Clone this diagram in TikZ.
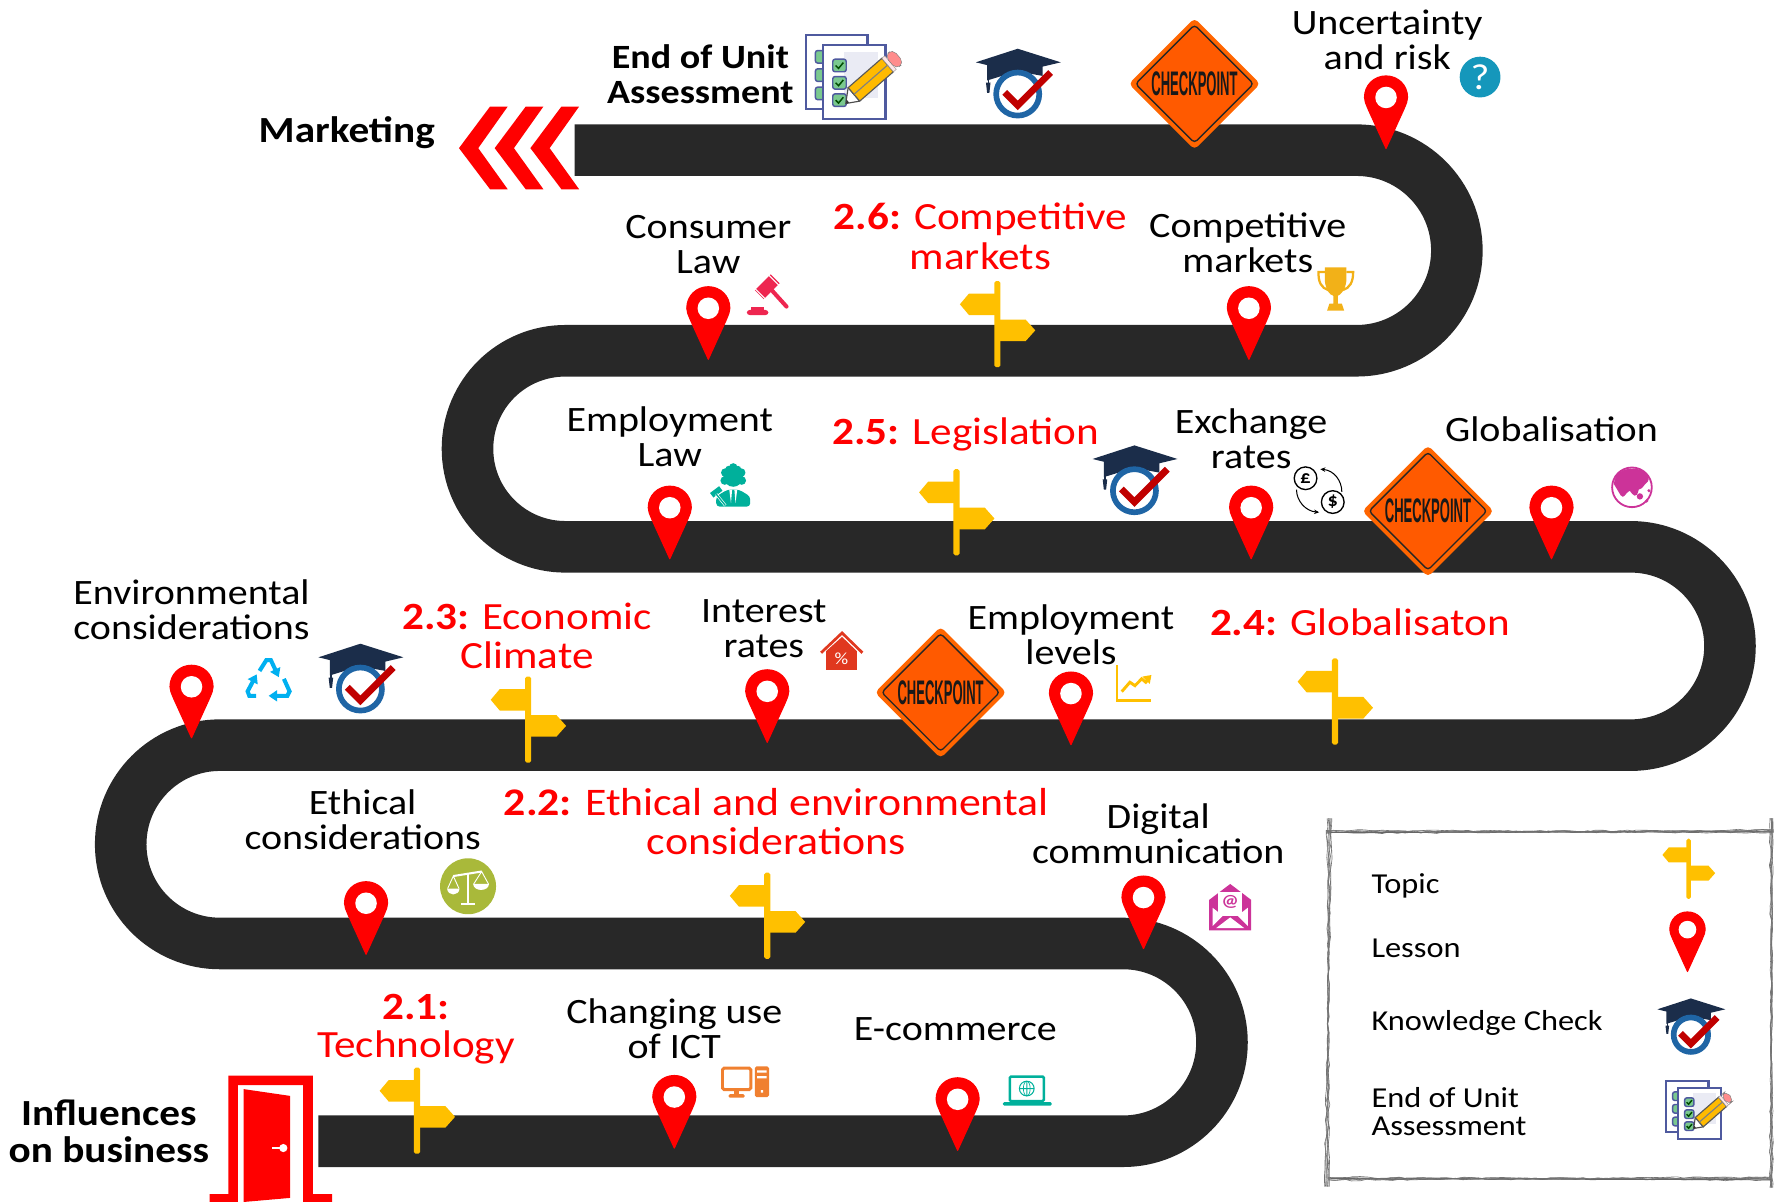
\documentclass[tikz,border=0pt]{standalone}
\usepackage{fontspec}
\usepackage{graphicx}
\setmainfont[FakeStretch=1.12]{Carlito}
\newfontfamily\signfont{Liberation Sans}
\usetikzlibrary{arrows.meta,decorations.pathmorphing}
\definecolor{road}{HTML}{282828}
\definecolor{signy}{HTML}{FFC000}
\definecolor{ckorange}{HTML}{FF5A00}
\definecolor{capnavy}{HTML}{1B2D4A}
\definecolor{capblue}{HTML}{1F65A5}
\definecolor{chkred}{HTML}{C00000}
\definecolor{penline}{HTML}{4F5A9F}
\definecolor{tabgreen}{HTML}{7AC98F}
\definecolor{magent}{HTML}{CC3399}
\definecolor{teal}{HTML}{00B09B}
\definecolor{quest}{HTML}{1597BB}
\tikzset{
  lbl/.style={inner sep=0pt,align=center,text=black,font=\fontsize{31.5}{31}\selectfont},
  redlbl/.style={inner sep=0pt,align=center,text=red,font=\fontsize{34}{35}\selectfont},
  boldlbl/.style={inner sep=0pt,align=center,text=black,font=\fontsize{30}{31}\selectfont\bfseries},
  boldbig/.style={inner sep=0pt,align=center,text=black,font=\fontsize{32.5}{32.5}\selectfont\bfseries},
  leglbl/.style={inner sep=0pt,anchor=west,align=left,text=black,font=\fontsize{25.5}{25}\selectfont},
  sketch/.style={draw=black!55,line width=.55pt,decorate,decoration={random steps,segment length=7pt,amplitude=.9pt}},
  pinp/.pic={
    \fill[red,draw=red,line width=1pt,line join=round] (0,-1) -- (-15.5,-35) .. controls (-18,-41) and (-19,-43) .. (-19,-46)
      .. controls (-19,-57) and (-10.5,-65) .. (0,-65) .. controls (10.5,-65) and (19,-57) .. (19,-46)
      .. controls (19,-43) and (18,-41) .. (15.5,-35) -- cycle;
    \fill[white] (0,-46) circle[radius=9.5];
  },
  signp/.pic={
    \fill[signy] (0,11) -- (-25,11) -- (-33,20.5) -- (-25,30) -- (0,30) -- cycle;
    \fill[signy] (0,34) -- (25,34) -- (33.5,43.5) -- (25,53) -- (0,53) -- cycle;
    \fill[signy,rounded corners=1.5pt] (-2.7,76) -- (-2.7,0) -- (2.7,0) -- (2.7,76) -- cycle;
  },
  ckpt/.pic={
    \fill[ckorange!70!orange,rounded corners=4pt] (0,-58) -- (58,0) -- (0,58) -- (-58,0) -- cycle;
    \fill[ckorange,draw=black!85,line width=1.2pt,rounded corners=3pt] (0,-52) -- (52,0) -- (0,52) -- (-52,0) -- cycle;
    \node[inner sep=0pt,text=black!90] (-txt) at (0,0) {\resizebox{76pt}{21pt}{\signfont\bfseries CHECKPOINT}};
  },
  capchk/.pic={
    \fill[white] (-3,19) rectangle (33,62);
    \fill[capnavy] (-27,14) -- (-27,28) -- (-14,24) -- (0,20) -- (22,24) -- (22,14) -- cycle;
    \fill[capnavy] (0,0) -- (38,12) -- (0,21) -- (-37,12) -- cycle;
    \draw[capnavy,line width=1.2pt] (-26,14) -- (-26,33);
    \fill[capnavy] (-28,30) -- (-24,30) -- (-25,39) -- (-27,39) -- cycle;
    \draw[capblue,fill=white,line width=5pt] (0,40) circle[radius=19];
    \draw[chkred,line width=6pt] (-11.5,38.5) -- (0,50) -- (29,21);
  },
  assessp/.pic={
    \draw[penline,fill=white,line width=2.2pt] (0,0) rectangle (128,153);
    \foreach \yy in {32,70,108}{\draw[penline,fill=tabgreen,line width=1.3pt,rounded corners=2pt] (20,\yy) rectangle (44,\yy+26);}
    \draw[penline,fill=white,line width=2.2pt] (36,21) rectangle (165,174);
    \fill[penline!12] (80,35) rectangle (150,130);
    \foreach \yy in {50,86,122}{
      \draw[penline,fill=tabgreen,line width=1.3pt,rounded corners=2pt] (56,\yy) rectangle (84,\yy+26);
      \draw[black!70!green,line width=1.3pt] (62,\yy+13) -- (68,\yy+19) -- (78,\yy+7);}
    \fill[white,draw=black!70,line width=1pt,line join=round] (83,142) -- (112,137) -- (88,109) -- cycle;
    \fill[black!80] (83,142) -- (90,140) -- (85,134) -- cycle;
    \fill[signy!90!orange,draw=black!65,line width=1pt] (112,137) -- (182,76) -- (158,48) -- (88,109) -- cycle;
    \draw[black!50,line width=1pt] (100,123) -- (170,62);
    \fill[white!60!pink,draw=black!40] (182,76) -- (188,71) -- (164,43) -- (158,48) -- cycle;
    \fill[red!45!white,draw=black!50,rounded corners=5pt] (188,71) -- (204,57) -- (180,29) -- (164,43) -- cycle;
  },
}
\begin{document}
\begin{tikzpicture}[x=1pt,y=-1pt]
\useasboundingbox (0,0) rectangle (1568,1060.6);
% road
\draw[road,line width=45.5pt] (507,132.5) -- (1197,132.5)
  .. controls (1245.9,132.5) and (1285.5,172.1) .. (1285.5,221)
  .. controls (1285.5,269.9) and (1245.9,309.5) .. (1197,309.5)
  -- (499,309.5)
  .. controls (451.2,309.5) and (412.5,347.8) .. (412.5,396)
  .. controls (412.5,443.8) and (451.2,482.5) .. (499,482.5)
  -- (1439,482.5)
  .. controls (1487.3,482.5) and (1526.5,521.7) .. (1526.5,570)
  .. controls (1526.5,618.3) and (1487.3,657.5) .. (1439,657.5)
  -- (194,657.5)
  .. controls (145.7,657.5) and (106.5,696.7) .. (106.5,745)
  .. controls (106.5,793.3) and (145.7,832.5) .. (194,832.5)
  -- (991,832.5)
  .. controls (1039.2,832.5) and (1078.25,871.6) .. (1078.25,919.75)
  .. controls (1078.25,967.9) and (1039.2,1007) .. (991,1007)
  -- (281,1007);
% chevrons
\foreach \t in {405,436.5,468}{
  \fill[red] (\t,130.7) -- (\t+27.4,94) -- (\t+43,94) -- (\t+17,130.7) -- (\t+43,167) -- (\t+27.4,167) -- cycle;}
% door
\fill[red] (185,1060.6) -- (185,1053.6) -- (201.5,1053.6) -- (201.5,949) -- (276,949) -- (276,1053.6) -- (293,1053.6) -- (293,1060.6)
  -- (267.5,1060.6) -- (267.5,957.5) -- (210,957.5) -- (210,1060.6) -- cycle;
\fill[red] (215,961) -- (256,967) -- (256,1057) -- (215,1060.6) -- cycle;
\fill[white] (250,1013) circle[radius=3.6];
\fill[white] (240,1011.8) rectangle (250,1014.2);
% checkpoints
\pic (ckA) at (1054,74) {ckpt};
\pic (ckB) at (1260,451) {ckpt};
\pic (ckC) at (830,611) {ckpt};
% signposts
\foreach \px/\py in {880/248,844/414,466/597,1178/581,677/770,368/942}{\pic at (\px,\py) {signp};}
\pic[scale=.7] at (1490,740) {signp};
% knowledge checks
\pic at (898,43) {capchk};
\pic at (1001,393) {capchk};
\pic at (318,568) {capchk};
\pic[scale=.8] at (1492,881) {capchk};
% assessment
\pic[scale=.425] at (711,31) {assessp};
\pic[scale=.294] at (1470,954) {assessp};
% pins
\foreach \px/\py in {1223/132,625/318,1102/318,591/494,1104/494,1369/494,169/652,677/656,945/658,323/843,1009/838,595/1014,845/1016}{\pic at (\px,\py) {pinp};}
\pic[scale=.82] at (1489,858) {pinp};
% gavel
\definecolor{gav}{HTML}{EE2650}
\draw[gav,line width=11pt] (670,260) -- (684,246);
\draw[white,line width=1pt] (665.5,254) -- (676.5,265);
\draw[white,line width=1pt] (677.5,242) -- (688.5,253);
\draw[gav,line width=3.6pt,line cap=round] (680,255) -- (694,270.5);
\fill[gav,rounded corners=2.5pt] (659,273.5) rectangle (678,278);
\fill[gav] (663,271) rectangle (674,274);
% trophy
\definecolor{troph}{HTML}{F2B118}
\fill[troph] (1169,236) -- (1188,236) -- (1188,248) .. controls (1187,256) and (1183,260) .. (1180.5,261) -- (1180.5,268) -- (1184,268) -- (1186,274) -- (1171,274) -- (1173,268) -- (1176.5,268) -- (1176.5,261) .. controls (1173,260) and (1170,256) .. (1169,248) -- cycle;
\draw[troph,line width=2pt] (1169,240) -- (1163.5,240) .. controls (1163,249) and (1166,254) .. (1172,256);
\draw[troph,line width=2pt] (1188,240) -- (1194,240) .. controls (1194,249) and (1191,254) .. (1185,256);
% question
\fill[quest] (1306,68) circle[radius=18];
\node[inner sep=0pt,text=white,font=\fontsize{32}{32}\selectfont] (qmark) at (1306,68) {?};
% coins
\draw[black,line width=1.2pt] (1152,422) circle[radius=10];
\node[inner sep=0pt,font=\fontsize{16}{16}\selectfont\bfseries] (pound) at (1152,422) {£};
\draw[black,line width=1.2pt] (1176,443) circle[radius=10];
\node[inner sep=0pt,font=\fontsize{16}{16}\selectfont\bfseries] (dollar) at (1176,443) {\$};
\draw[black,line width=.9pt,-{Stealth[length=4.5pt,width=4pt]}] (1184,434) .. controls (1184,424) and (1177,415) .. (1165,414);
\draw[black,line width=.9pt,-{Stealth[length=4.5pt,width=4pt]}] (1144,432) .. controls (1144,442) and (1152,451) .. (1164,452);
% globe
\draw[magent,fill=white,line width=1.6pt] (1440,430) circle[radius=17.5];
\fill[magent] (1424,427) .. controls (1425,416) and (1434,413) .. (1442,413.5) .. controls (1450,414) and (1457,420) .. (1454,425) .. controls (1450,428) and (1450,431) .. (1446,432) .. controls (1444,441) and (1441,437) .. (1438,433) .. controls (1434,435) and (1433,441) .. (1430,437) -- cycle;
\fill[magent] (1447,438) circle[radius=2.8] (1453,442) circle[radius=1.6] (1455,433) circle[radius=1.5];
% teacher
\fill[teal] (647,421) circle[radius=8.5] (640,417) circle[radius=3.8] (647,412.5) circle[radius=3.8] (654,417) circle[radius=3.8] (639.5,424) circle[radius=3.8] (654.5,424) circle[radius=3.8] (643,414) circle[radius=3] (651,414) circle[radius=3];
\fill[teal,rounded corners=3pt] (632,447) -- (632,438) -- (642,432) -- (652,432) -- (662,438) -- (662,447) -- cycle;
\fill[white] (643.5,432) -- (645,444) -- (646,432) -- cycle (648,432) -- (649,444) -- (650.5,432) -- cycle;
\draw[teal,line width=5pt] (628,437) -- (636,431);
\draw[white,line width=2.4pt] (632,436) -- (640,446);
\draw[teal,line width=1.2pt] (632,436) -- (640,446);
% house
\definecolor{hous}{HTML}{E0381F}
\draw[hous,line width=2.4pt] (724.5,576) -- (743,558.5) -- (761,576);
\fill[hous] (729,591) -- (729,574.5) -- (743,562) -- (756,574.5) -- (756,591) -- cycle;
\node[inner sep=0pt,text=white,font=\fontsize{15}{15}\selectfont] (pct) at (742.5,581) {\%};
% chart
\draw[signy,line width=2.4pt] (985.5,587) -- (985.5,618) -- (1016,618);
\draw[signy,line width=2.6pt] (989.8,610.3) -- (997,602) -- (1001.5,605) -- (1007.4,599) -- (1011,602) -- (1014,598.5);
\fill[signy] (1016,595.6) -- (1008,597) -- (1014.5,603.5) -- cycle;
% recycle
\definecolor{recy}{HTML}{00B0F0}
\begin{scope}[recy,line width=3.6pt,-{Triangle[length=7.5pt,width=9.5pt]}]
\draw (229,592) -- (235,582.5) -- (239,582.5) -- (246,597.5);
\draw (250.5,599) -- (255.5,610) -- (253.5,614) -- (237,614);
\draw (226,614) -- (220,614) -- (218.5,610) -- (226.5,595);
\end{scope}
% scales
\definecolor{scal}{HTML}{A9B93A}
\fill[scal] (413,782) circle[radius=24.7];
\draw[white,line width=2pt] (413,771) -- (413,797);
\draw[white,line width=2pt] (407,797.5) -- (419,797.5);
\draw[white,line width=1.8pt] (400,773) -- (425,769);
\draw[white,line width=.8pt] (395,784) -- (400,773) -- (405,784);
\draw[white,line width=.8pt] (418,780) -- (425,769) -- (431,780);
\fill[white] (394.5,784) .. controls (395,791) and (405,791) .. (405.5,784) -- cycle;
\fill[white] (417.5,780) .. controls (418,787) and (431,787) .. (431.5,780) -- cycle;
% mail
\fill[magent] (1067,794) -- (1085.5,780) -- (1104,794) -- (1104,821) -- (1067,821) -- cycle;
\fill[white] (1075,787) rectangle (1096,808);
\node[inner sep=0pt,text=magent,font=\fontsize{15}{15}\selectfont\bfseries] (atsign) at (1085.5,796) {@};
\fill[white] (1070,801) -- (1079,808) -- (1070,817) -- cycle;
\fill[white] (1101,801) -- (1092,808) -- (1101,817) -- cycle;
\fill[white] (1073,819) -- (1085.5,809.5) -- (1098,819) -- cycle;
% computer
\definecolor{comp}{HTML}{F08030}
\draw[comp,line width=2.6pt,rounded corners=1.5pt] (637.5,942.5) rectangle (662.5,961.5);
\fill[comp] (648,962) rectangle (652,966);
\fill[comp,rounded corners=1pt] (643,965.5) rectangle (657,968.5);
\fill[comp,rounded corners=1.5pt] (666,941) rectangle (678.6,968);
\fill[white] (668,944.5) rectangle (676.5,946.5) (668,949.5) rectangle (676.5,951.5) (671.3,962) rectangle (673.3,964);
% laptop
\draw[teal,line width=2.2pt,rounded corners=1pt] (891,950) rectangle (921,971.5);
\fill[teal,rounded corners=1pt] (885,972.5) rectangle (928,975.5);
\draw[teal,line width=.9pt] (906,960.5) circle[radius=6.5] (899.5,960.5) -- (912.5,960.5) (906,954) -- (906,967);
\draw[teal,line width=.6pt] (906,960.5) ellipse[x radius=3,y radius=6.5];
% legend box
\pgfmathsetseed{7}
\foreach \d in {-2,-1,-.3,.6,1.5,2.2}{
  \draw[sketch] (1170,734+.6*\d) -- (1565,733.5-.6*\d);
  \draw[sketch] (1172,1040+.6*\d) -- (1563,1040-.6*\d);
  \draw[sketch] (1173+\d,722) -- (1171-\d,1047);
  \draw[sketch] (1563+.6*\d,722) -- (1563-.6*\d,1048);
}
\draw[black!60,line width=.8pt] (1174,734.5) -- (1563,734);
\draw[black!60,line width=.8pt] (1174,1040) -- (1563,1041);
% labels
\node[boldlbl] (tEnd) at (618,65.5) {End of Unit\\Assessment};
\node[boldbig] (tMkt) at (306,117) {Marketing};
\node[lbl] (tUnc) at (1224,35) {Uncertainty\\and risk};
\node[lbl] (tCon) at (625,215.5) {Consumer\\Law};
\node[redlbl] (t26) at (865,208.5) {{\bfseries 2.6:} Competitive\\markets};
\node[lbl] (tCom) at (1101,214) {Competitive\\markets};
\node[lbl] (tEmpL) at (591,385.5) {Employment\\Law};
\node[redlbl] (t25) at (852,383) {{\bfseries 2.5:} Legislation};
\node[lbl] (tExc) at (1104,387.5) {Exchange\\rates};
\node[lbl] (tGlo) at (1369,379) {Globalisation};
\node[lbl] (tEnv) at (169,538) {Environmental\\considerations};
\node[redlbl] (t23) at (465,561) {{\bfseries 2.3:} Economic\\Climate};
\node[lbl] (tInt) at (674,555) {Interest\\rates};
\node[lbl] (tEmpV) at (945,560) {Employment\\levels};
\node[redlbl] (t24) at (1200,549) {{\bfseries 2.4:} Globalisaton};
\node[lbl] (tEth) at (320,723) {Ethical\\considerations};
\node[redlbl,font=\fontsize{34.5}{34}\selectfont] (t22) at (685,725) {{\bfseries 2.2:} Ethical and environmental\\considerations};
\node[lbl] (tDig) at (1022,736) {Digital\\communication};
\node[redlbl,font=\fontsize{34}{33}\selectfont] (t21) at (367,908) {{\bfseries 2.1:}\\Technology};
\node[lbl] (tCha) at (595,908) {Changing use\\of ICT};
\node[lbl] (tEco) at (843,908) {E-commerce};
\node[boldbig] (tInf) at (96,998) {Influences\\on business};
\node[leglbl] (lTop) at (1210,782) {Topic};
\node[leglbl] (lLes) at (1210,837) {Lesson};
\node[leglbl] (lKno) at (1210,903) {Knowledge Check};
\node[leglbl] (lEnd) at (1210,981) {End of Unit\\Assessment};
\end{tikzpicture}
\end{document}
